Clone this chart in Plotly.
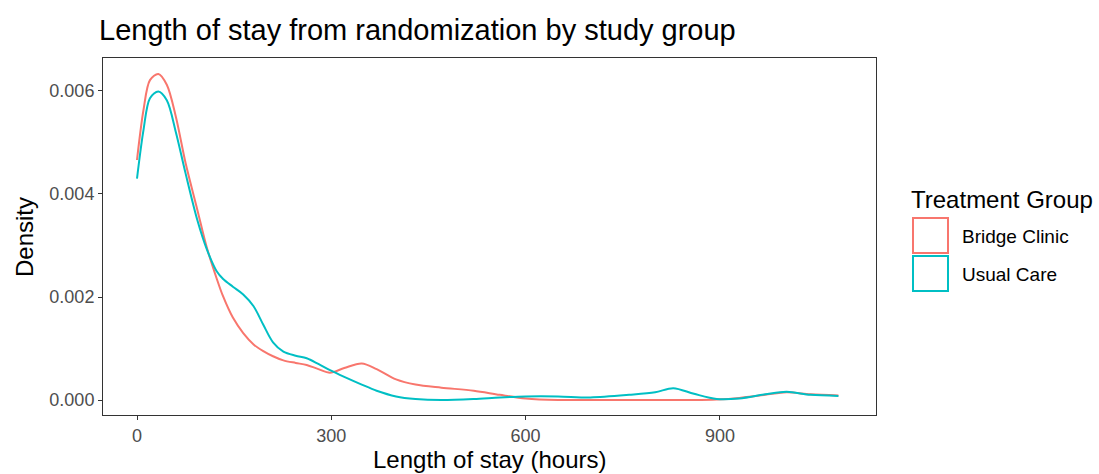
import plotly.graph_objects as go

# Density estimates of length of stay (hours) for each study group
hours = [0, 10, 20, 33, 46, 60, 75, 93, 108, 123, 133, 148, 164, 180, 195, 210, 226,
         245, 262, 280, 298, 320, 347, 370, 400, 430, 470, 520, 560, 600, 650, 700,
         760, 800, 828, 860, 895, 930, 970, 1003, 1040, 1083]

bridge_clinic = [0.00466, 0.00563, 0.00621, 0.00633, 0.00612, 0.0055, 0.0046, 0.0037, 0.00295,
                 0.00236, 0.00201, 0.0016, 0.0013, 0.00108, 0.00095, 0.00085, 0.00077,
                 0.00072, 0.00068, 0.0006, 0.00053, 0.00062, 0.00071, 0.0006, 0.0004,
                 0.0003, 0.00024, 0.00018, 0.0001, 0.00003, 0.0, 0.0,
                 0.0, 0.0, 0.0, 0.0, 0.00001, 0.00004, 0.0001, 0.00015, 0.00011, 0.00009]

usual_care = [0.0043, 0.00524, 0.00586, 0.00599, 0.00582, 0.0052, 0.0044, 0.0035, 0.00292,
              0.0025, 0.00235, 0.0022, 0.00205, 0.00182, 0.00146, 0.00112, 0.00094,
              0.00086, 0.00081, 0.0007, 0.00058, 0.00045, 0.0003, 0.00018, 0.00007,
              0.00002, 0.0, 0.00002, 0.00005, 0.00007, 0.00007, 0.00005,
              0.0001, 0.00015, 0.00023, 0.00012, 0.00002, 0.00003, 0.00011, 0.00016, 0.0001, 0.00008]

groups = ["Bridge Clinic", "Usual Care"]
colors = ["#F8766D", "#00BFC4"]

fig = go.Figure()
for name, vals, col in zip(groups, [bridge_clinic, usual_care], colors):
    fig.add_trace(go.Scatter(x=hours, y=vals, mode="lines", name=name,
                             line=dict(color=col, width=2, shape="spline", smoothing=0.9),
                             showlegend=False))

font = "Liberation Sans, Arial, sans-serif"
axis_common = dict(showgrid=False, zeroline=False, showline=True, mirror=True,
                   linecolor="#333333", linewidth=1, ticks="outside", ticklen=4,
                   tickcolor="#333333", tickwidth=1,
                   tickfont=dict(family=font, size=18, color="#4d4d4d"))

fig.update_layout(
    width=1099, height=474,
    margin=dict(l=103, r=223, t=58, b=59),
    paper_bgcolor="white", plot_bgcolor="white",
    title=dict(text="Length of stay from randomization by study group",
               x=99 / 1099, xanchor="left", y=1 - 30 / 474, yanchor="middle",
               font=dict(family=font, size=29, color="black")),
    xaxis=dict(range=[-52.5, 1141], tickvals=[0, 300, 600, 900], **axis_common),
    yaxis=dict(range=[-0.000291, 0.00664], tickvals=[0, 0.002, 0.004, 0.006],
               tickformat=".3f", **axis_common),
)

# Axis titles
fig.add_annotation(text="Length of stay (hours)", xref="paper", yref="paper",
                   x=0.5, y=-(459 - 415) / 357, xanchor="center", yanchor="middle",
                   showarrow=False, font=dict(family=font, size=24, color="black"))
fig.add_annotation(text="Density", xref="paper", yref="paper", textangle=-90,
                   x=-(103 - 24) / 773, y=1 - (237 - 58) / 357, xanchor="center", yanchor="middle",
                   showarrow=False, font=dict(family=font, size=24, color="black"))

# Legend drawn as outlined boxes, ggplot style
fig.add_annotation(text="Treatment Group", xref="paper", yref="paper",
                   x=(909 - 103) / 773, y=1 - (200 - 58) / 357, xanchor="left", yanchor="middle",
                   showarrow=False, font=dict(family=font, size=24, color="black"))
box_tops = [218, 256]
for name, col, top in zip(groups, colors, box_tops):
    fig.add_shape(type="rect", xref="paper", yref="paper",
                  x0=(913 - 103) / 773, x1=(948 - 103) / 773,
                  y0=1 - (top - 58) / 357, y1=1 - (top + 35 - 58) / 357,
                  line=dict(color=col, width=2), fillcolor="white")
    fig.add_annotation(text=name, xref="paper", yref="paper",
                       x=(960 - 103) / 773, y=1 - (top + 18 - 58) / 357,
                       xanchor="left", yanchor="middle", showarrow=False,
                       font=dict(family=font, size=19, color="black"))

fig.write_html("out.html")
